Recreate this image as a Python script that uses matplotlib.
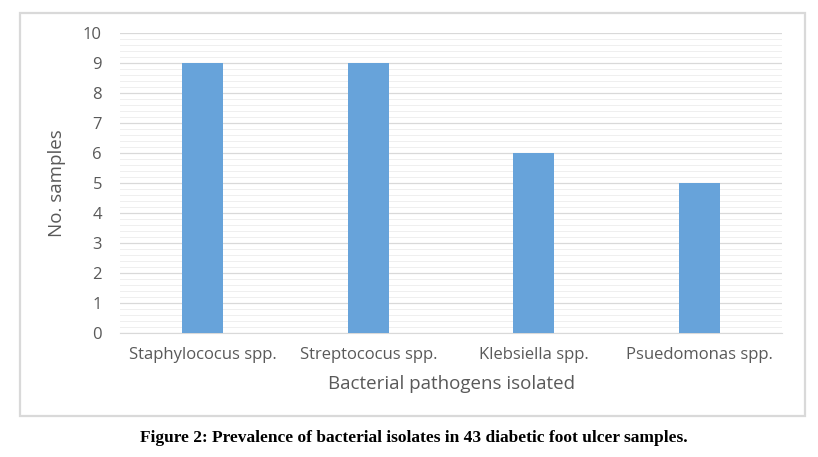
import matplotlib.pyplot as plt
from matplotlib.patches import Rectangle
from matplotlib.ticker import MultipleLocator

categories = ["Staphylococus spp.", "Streptococus spp.", "Klebsiella spp.", "Psuedomonas spp."]
samples = [9, 9, 6, 5]

plt.rcParams["font.family"] = ["Open Sans", "DejaVu Sans"]

fig = plt.figure(figsize=(8.18, 4.57), dpi=100)
ax = fig.add_axes((120 / 818, 1 - 333 / 457, 662 / 818, 300 / 457))

# outer chart frame
fig.patches.append(Rectangle((20 / 818, 1 - 416 / 457), 785 / 818, 403 / 457,
                             transform=fig.transFigure, fill=False,
                             edgecolor="#d9d9d9", linewidth=1.6))

x = range(len(categories))
ax.bar(x, samples, width=0.25, color="#67a3da", zorder=3)
ax.set_xlim(-0.5, len(categories) - 0.5)
ax.set_ylim(0, 10)
ax.yaxis.set_major_locator(MultipleLocator(1))
ax.yaxis.set_minor_locator(MultipleLocator(0.2))
ax.grid(axis="y", which="major", color="#d9d9d9", linewidth=0.9, zorder=0)
ax.grid(axis="y", which="minor", color="#efefef", linewidth=0.7, zorder=0)
ax.set_xticks(list(x))
ax.set_xticklabels(categories)
ax.tick_params(axis="both", which="both", length=0, labelsize=12, labelcolor="#595959")
ax.tick_params(axis="x", pad=10)
ax.tick_params(axis="y", pad=13)
for side in ["top", "right", "left"]:
    ax.spines[side].set_visible(False)
ax.spines["bottom"].set_color("#d9d9d9")
ax.set_xlabel("Bacterial pathogens isolated", fontsize=13.5, color="#595959", labelpad=9)
ax.set_ylabel("No. samples", fontsize=13.5, color="#595959", labelpad=12)

fig.text(414 / 818, 1 - 438 / 457, "Figure 2: Prevalence of bacterial isolates in 43 diabetic foot ulcer samples.",
         ha="center", va="center", fontsize=12.5, weight="bold", family="Liberation Serif")

fig.savefig("out.png", dpi=100)
